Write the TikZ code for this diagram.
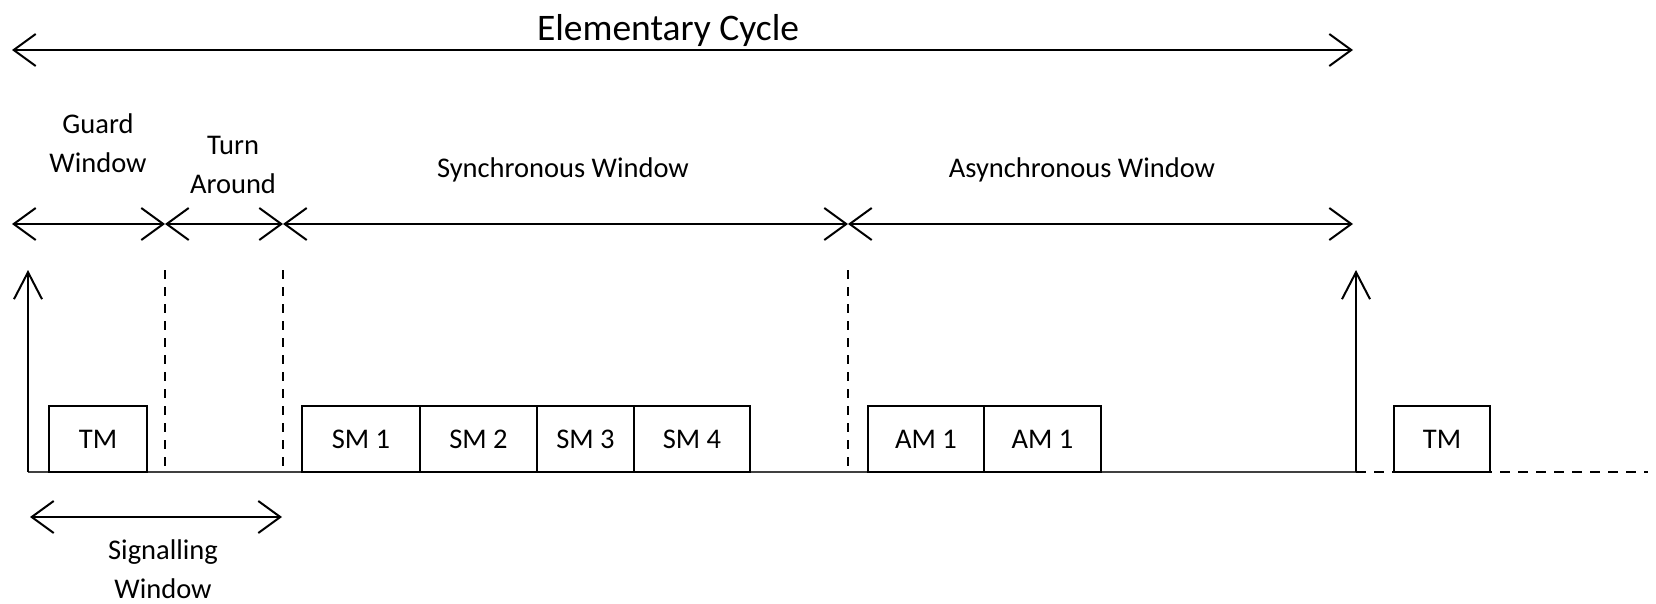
\documentclass[tikz,border=0pt]{standalone}
\usepackage{fontspec}
\setmainfont{Carlito}
\usetikzlibrary{arrows.meta,positioning}

\newcommand{\lblfont}{\fontsize{28.5}{39}\selectfont}
\newcommand{\ttlfont}{\fontsize{37.5}{45}\selectfont}

\tikzset{
  msg/.style={draw, fill=white, outer sep=0pt, inner sep=0pt, minimum height=66pt, font=\lblfont},
  lbl/.style={font=\lblfont, align=center, anchor=base, inner sep=0pt},
  ttl/.style={font=\ttlfont, anchor=base, inner sep=0pt},
  sep/.style={dash pattern=on 9pt off 8pt},
  upbarb/.style={->, >={Straight Barb[length=27pt,width=28pt]}}
}

\begin{document}
\begin{tikzpicture}[x=1pt, y=-1pt, line width=2pt, >={Straight Barb[length=22pt,width=32pt]}]
    \useasboundingbox (0,0) rectangle (1656,603);

    % Elementary cycle
    \coordinate (ecL) at (12,50);
    \coordinate (ecR) at (1353,50);
    \draw[<->] (ecL) -- (ecR);
    \node[ttl] (ec) at (668,40) {Elementary Cycle};

    % Window arrows
    \coordinate (w0) at (12,224);
    \coordinate (w1) at (165,224);
    \coordinate (w2) at (283,224);
    \coordinate (w3) at (848,224);
    \coordinate (w4) at (1353,224);

    \draw[<->] (w0) -- (w1);
    \draw[<->] (w1) -- (w2);
    \draw[<->] (w2) -- (w3);
    \draw[<->] (w3) -- (w4);

    \node[lbl] (guard) at (98,172) {Guard\\Window};
    \node[lbl] (turn) at (233,193) {Turn\\Around};
    \node[lbl] (sync) at (563,177) {Synchronous Window};
    \node[lbl] (async) at (1082,177) {Asynchronous Window};

    % Time line
    \coordinate (b0) at (28,472);
    \coordinate (b1) at (1356,472);
    \coordinate (bEnd) at (1648,472);
    \coordinate (t0) at (28,270);
    \coordinate (t1) at (1356,270);

    \draw[black!75, line width=2.5pt] (b0) -- (b1);
    \draw[sep, dash pattern=on 10pt off 8pt] (b1) -- (bEnd);
    \draw[upbarb] (b0) -- (t0);
    \draw[upbarb] (b1) -- (t1);

    \draw[sep] (w1 |- t0) -- (w1 |- b0);
    \draw[sep] (w2 |- t0) -- (w2 |- b0);
    \draw[sep] (w3 |- t0) -- (w3 |- b0);

    % Messages
    \node[msg, minimum width=98pt, anchor=south west] (tm) at (49,472) {TM};
    \node[msg, minimum width=118pt, anchor=south west] (sm1) at (302,472) {SM 1};
    \node[msg, minimum width=117pt, right=0pt of sm1] (sm2) {SM 2};
    \node[msg, minimum width=97pt, right=0pt of sm2] (sm3) {SM 3};
    \node[msg, minimum width=116pt, right=0pt of sm3] (sm4) {SM 4};
    \node[msg, minimum width=116pt, anchor=south west] (am1) at (868,472) {AM 1};
    \node[msg, minimum width=117pt, right=0pt of am1] (am2) {AM 1};
    \node[msg, minimum width=96pt, anchor=south west] (tmnext) at (1394,472) {TM};

    % Signalling window
    \coordinate (s0) at (30,517);
    \coordinate (s1) at (282,517);
    \draw[<->] (s0) -- (s1);
    \node[lbl] (signal) at (163,598) {Signalling\\Window};

\end{tikzpicture}
\end{document}
